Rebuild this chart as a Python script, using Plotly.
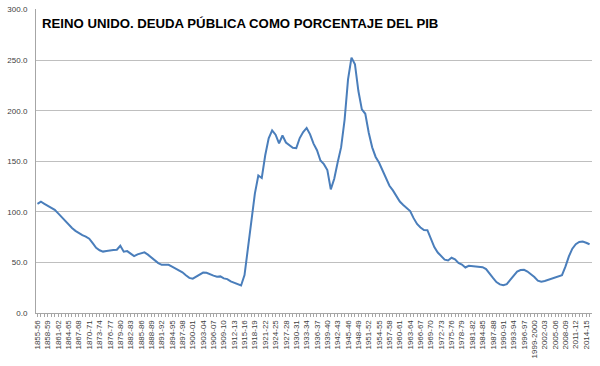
import plotly.graph_objects as go

title_text = "REINO UNIDO. DEUDA PÚBLICA COMO PORCENTAJE DEL PIB"

first_year = 1855
years = list(range(1855, 2016))
categories = [("1999-2000" if y == 1999 else f"{y}-{(y + 1) % 100:02d}") for y in years]

debt_pct_gdp = [
    108, 110, 108, 106, 103.7, 102, 98.5, 95, 90.7, 87,
    84, 81.2, 79, 77, 75.6, 73.5, 69, 64.5, 62, 60.7,
    61.3, 62, 62.2, 62.6, 66.5, 60.6, 61.2, 58.7, 56.2, 58,
    59.3, 60, 57.7, 55, 52, 49.3, 47.6, 47.8, 47.6, 45.8,
    44, 42, 40.2, 37.3, 34.7, 34, 36, 38.8, 40, 39.7,
    38.1, 37, 35.8, 36.2, 34.2, 33.5, 31.2, 29.6, 28.5, 27.2,
    37.5, 63, 90.5, 118, 136, 133.5, 156, 172.7, 180.6, 176.3,
    167.8, 175.5, 168.6, 166.4, 163.4, 163, 173, 179, 183, 176.6,
    167.5, 161, 150.8, 147.2, 141.4, 122.3, 132.8, 149, 164, 191,
    231, 252.5, 246, 219.5, 201.4, 197, 178.2, 163.8, 154.3, 148.6,
    140.6, 132.7, 125.8, 121.2, 116.2, 110.2, 106.8, 104, 100.8, 93.8,
    88, 84.6, 82, 81.9, 73.3, 65.2, 59.8, 56.7, 52.8, 51.9,
    54.6, 53, 49.6, 47.9, 45, 46.7, 46.5, 45.9, 45.7, 45.3,
    43.4, 39.6, 34.7, 30.6, 28.3, 27.4, 28.6, 32.8, 37.1, 41,
    42.5, 42.7, 41, 38.7, 35.6, 32, 31, 31.7, 32.8, 34.1,
    35.3, 36.3, 37.5, 45.8, 56, 63.6, 68.1, 70.3, 70.6, 69.5,
    68,
]

y_ticks = [0, 50, 100, 150, 200, 250, 300]

idx = list(range(len(categories)))
tick_idx = idx[::3]
tick_text = [categories[i] for i in tick_idx]

fig = go.Figure()
fig.add_trace(go.Scatter(
    x=idx, y=debt_pct_gdp, mode="lines",
    line=dict(color="#4A7EBB", width=2),
    hoverinfo="skip", showlegend=False,
))

fig.update_layout(
    width=600, height=366,
    margin=dict(l=36, r=8, t=9.4, b=52.5, autoexpand=False),
    paper_bgcolor="white", plot_bgcolor="white",
    font=dict(family="Liberation Sans, Arial, sans-serif", size=8, color="#404040"),
    showlegend=False,
    annotations=[dict(
        text="<b>" + title_text + "</b>",
        xref="paper", yref="paper", x=0.007, y=0.983,
        xanchor="left", yanchor="top", showarrow=False,
        font=dict(family="Liberation Sans, Arial, sans-serif", size=13.2, color="black"),
    )],
)

fig.update_xaxes(
    range=[-0.43, 160.7], automargin=False,
    tickmode="array", tickvals=tick_idx, ticktext=tick_text,
    tickangle=-90, tickfont=dict(size=8, color="#404040"),
    showgrid=False, zeroline=False,
    showline=True, linecolor="#A6A6A6", linewidth=1,
    ticks="outside", ticklen=3, tickcolor="#A6A6A6",
    minor=dict(tickmode="linear", tick0=0, dtick=1, ticks="outside", ticklen=3,
               tickcolor="#A6A6A6", showgrid=False),
    ticklabeloverflow="allow",
)

fig.update_yaxes(
    range=[0, 300.6], automargin=False,
    tickmode="array", tickvals=y_ticks, ticktext=[f"{v:.1f}" for v in y_ticks],
    tickfont=dict(size=8, color="#404040"),
    showgrid=True, gridcolor="#BFBFBF", gridwidth=1,
    zeroline=False,
    showline=True, linecolor="#A6A6A6", linewidth=1,
    ticks="", ticklabelstandoff=6,
    ticklabeloverflow="allow",
)

fig.write_html(
    "out.html",
    config={"displayModeBar": False},
    post_script="document.body.style.margin='0';document.body.style.padding='0';",
)
